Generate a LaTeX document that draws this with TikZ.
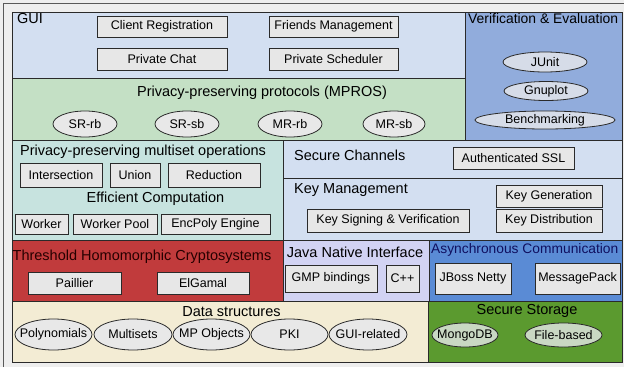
\documentclass[tikz,border=0pt]{standalone}
\usepackage{fontspec}
\setmainfont{Liberation Sans}
\usetikzlibrary{shapes.geometric}
\definecolor{bgc}{HTML}{EEEEEE}
\definecolor{lblue}{HTML}{D3DFF1}
\definecolor{verif}{HTML}{91ACDC}
\definecolor{mpros}{HTML}{C4E0C5}
\definecolor{mint}{HTML}{C7E3DF}
\definecolor{thred}{HTML}{C13B3C}
\definecolor{jni}{HTML}{D2D3F3}
\definecolor{async}{HTML}{5A8BD5}
\definecolor{datac}{HTML}{F3ECD4}
\definecolor{store}{HTML}{5B9A2F}
\definecolor{boxf}{HTML}{E7E7E7}
\definecolor{ellf}{HTML}{E8E8E8}
\definecolor{ellv}{HTML}{D6DCE8}
\definecolor{ells}{HTML}{C9D8C3}
\definecolor{edge}{HTML}{2A2A2A}
\definecolor{navy}{HTML}{101060}
\tikzset{
  region/.style={draw=edge, line width=0.9pt},
  title/.style={inner sep=0pt, font=\fontsize{14.5}{16}\selectfont},
  itembox/.style={draw=edge, fill=boxf, line width=0.8pt, inner sep=0pt, font=\fontsize{12.5}{14}\selectfont},
  ell/.style={ellipse, draw=edge, fill=ellf, line width=0.8pt, inner sep=0pt},
  elltext/.style={inner sep=0pt, font=\fontsize{12.5}{14}\selectfont},
}
\newcommand{\bx}[6]{\node[itembox, minimum width=#3, minimum height=#4] (#1) at (#2) {#5};}
\newcommand{\el}[7]{\node[ell, fill=#7, minimum width=#3, minimum height=#4] (#1) at (#2) {};
  \node[elltext] (#1-t) at (#1) {#5};}
\begin{document}
\begin{tikzpicture}[x=1pt,y=-1pt]
\useasboundingbox (0,0) rectangle (624,367);
\fill[bgc] (0,0) rectangle (624,367);
\draw[line width=0.8pt, color=gray!70!black] (3,367) -- (3,3) -- (624,3);
% regions
\filldraw[region, fill=lblue] (12,12) rectangle (465,78);
\filldraw[region, fill=verif] (465,12) rectangle (622,140);
\filldraw[region, fill=mpros] (12,78) rectangle (465,140);
\filldraw[region, fill=mint] (12,140) rectangle (283,240);
\filldraw[region, fill=lblue] (283,140) rectangle (622,178);
\filldraw[region, fill=lblue] (283,178) rectangle (622,240);
\filldraw[region, fill=thred] (12,240) rectangle (283,301);
\filldraw[region, fill=jni] (283,240) rectangle (429,301);
\filldraw[region, fill=async] (429,240) rectangle (622,301);
\filldraw[region, fill=datac] (12,301) rectangle (428,362);
\filldraw[region, fill=store] (428,301) rectangle (622,362);
% titles
\node[title, anchor=west] (t-gui) at (17,19) {GUI};
\node[title] (t-mpros) at (262,93) {Privacy-preserving protocols (MPROS)};
\node[title, anchor=west, font=\fontsize{13.9}{16}\selectfont] (t-verif) at (468,19) {Verification \& Evaluation};
\node[title, anchor=west] (t-mset) at (20,152) {Privacy-preserving multiset operations};
\node[title] (t-eff) at (155.5,199) {Efficient Computation};
\node[title, anchor=west] (t-sc) at (294,155) {Secure Channels};
\node[title, anchor=west] (t-km) at (294,190) {Key Management};
\node[title, text=black!85!red] (t-thr) at (142,257) {Threshold Homomorphic Cryptosystems};
\node[title] (t-jni) at (355,252) {Java Native Interface};
\node[title, anchor=west, text=navy, font=\fontsize{13.8}{16}\selectfont] (t-async) at (431,250) {Asynchronous Communication};
\node[title] (t-data) at (231.5,312) {Data structures};
\node[title] (t-store) at (527,311) {Secure Storage};
% GUI boxes
\bx{cr}{162,26.5}{130}{21}{Client Registration}{}
\bx{fm}{333.5,26.5}{129}{21}{Friends Management}{}
\bx{pc}{162,59}{130}{22}{Private Chat}{}
\bx{ps}{333.5,59}{129}{22}{Private Scheduler}{}
% MPROS ellipses
\el{srrb}{85,124}{64}{26}{SR-rb}{}{ellf}
\el{srsb}{187,124}{64}{26}{SR-sb}{}{ellf}
\el{mrrb}{290,124}{64}{26}{MR-rb}{}{ellf}
\el{mrsb}{394,124}{62}{26}{MR-sb}{}{ellf}
% Verification ellipses
\el{junit}{545,62}{84}{20}{JUnit}{}{ellv}
\el{gnup}{546,91}{84}{19}{Gnuplot}{}{ellv}
\el{bench}{545,120}{140}{18}{Benchmarking}{}{ellv}
% multiset boxes
\bx{inter}{61,175}{82}{24}{Intersection}{}
\bx{union}{135,175}{50}{24}{Union}{}
\bx{reduc}{214,175}{92}{24}{Reduction}{}
\bx{worker}{41.5,224}{53}{20}{Worker}{}
\bx{wpool}{115,224}{84}{20}{Worker Pool}{}
\bx{encp}{215.5,224}{109}{20}{EncPoly Engine}{}
% secure channels / key mgmt
\bx{assl}{513.5,158}{121}{22}{Authenticated SSL}{}
\bx{kgen}{549,196}{106}{22}{Key Generation}{}
\bx{kdist}{549,220.5}{106}{23}{Key Distribution}{}
\bx{ksign}{388,220.5}{162}{23}{Key Signing \& Verification}{}
% threshold
\bx{pail}{74.5,283}{93}{22}{Paillier}{}
\bx{elg}{203,283}{92}{22}{ElGamal}{}
% JNI
\bx{gmp}{331,278.5}{92}{27}{GMP bindings}{}
\bx{cpp}{402.5,278.5}{33}{27}{C++}{}
% async
\bx{jboss}{473,278.5}{76}{31}{JBoss Netty}{}
\bx{mpack}{577.5,278.5}{85}{31}{MessagePack}{}
% data structures
\el{poly}{53.5,334.5}{77}{31}{Polynomials}{}{ellf}
\el{msets}{133,334.5}{78}{31}{Multisets}{}{ellf}
\el{mpobj}{211.5,334.5}{77}{31}{MP Objects}{}{ellf}
\el{pki}{289.5,334.5}{77}{31}{PKI}{}{ellf}
\el{guir}{368,334.5}{78}{31}{GUI-related}{}{ellf}
% storage
\el{mongo}{465,335}{66}{24}{MongoDB}{}{ells}
\el{fileb}{563.5,335}{77}{24}{File-based}{}{ells}
\end{tikzpicture}
\end{document}
